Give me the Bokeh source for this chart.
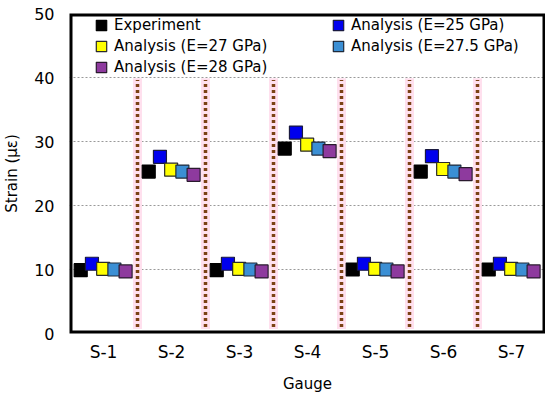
from bokeh.plotting import figure
from bokeh.models import FixedTicker, Legend, LegendItem, ColumnDataSource
from bokeh.embed import file_html
from bokeh.resources import INLINE

gauges = ["S-1", "S-2", "S-3", "S-4", "S-5", "S-6", "S-7"]
experiment = [9.9, 25.3, 9.9, 28.9, 10.0, 25.3, 10.0]
e25 = [10.9, 27.6, 10.9, 31.4, 10.9, 27.7, 10.9]
e27 = [10.1, 25.6, 10.1, 29.5, 10.1, 25.7, 10.1]
e275 = [10.0, 25.3, 10.0, 28.9, 10.0, 25.3, 10.0]
e28 = [9.7, 24.8, 9.7, 28.5, 9.7, 24.9, 9.7]
y_min, y_max = 0, 50
separator_top = 39.6
separator_bottom = 1.0

FONT = "DejaVu Sans"

x_lo, x_hi = 0.5, len(gauges) + 0.5
p = figure(frame_width=476, frame_height=320, x_range=(x_lo, x_hi), y_range=(y_min, y_max),
           output_backend="svg", toolbar_location=None,
           min_border_left=59, min_border_right=0, min_border_top=13, min_border_bottom=0)

# separators between gauges
sep_x = [i + 1.5 for i in range(len(gauges) - 1)]
for sx in sep_x:
    p.line([sx, sx], [separator_bottom - 0.3, separator_top + 0.3], line_color="#ffe0ee", line_width=9, line_alpha=1)
    p.line([sx, sx], [separator_bottom, separator_top], line_color="#7b4214", line_width=3.5, line_dash="3 3")

series = [
    ("Experiment", experiment, "#000000", "#000000", -0.335),
    ("Analysis (E=25 GPa)", e25, "#0000ee", "#1a1a40", -0.17),
    ("Analysis (E=27 GPa)", e27, "#ffff00", "#2a2a2a", -0.005),
    ("Analysis (E=27.5 GPa)", e275, "#3b8fd4", "#1f2a3a", 0.16),
    ("Analysis (E=28 GPa)", e28, "#8e3a9e", "#2a1a2e", 0.325),
]
renderers = {}
xs = list(range(1, len(gauges) + 1))
for name, vals, fill, line, off in series:
    src = ColumnDataSource(dict(x=[x + off for x in xs], y=vals))
    r = p.scatter("x", "y", source=src, marker="square", size=13,
                  fill_color=fill, line_color=line, line_width=1.2)
    renderers[name] = r

# plot frame border
p.quad(left=[x_lo], right=[x_hi], bottom=[y_min], top=[y_max],
       fill_color=None, line_color="#000000", line_width=6)

def make_legend(name, loc):
    lg = Legend(items=[LegendItem(label=name, renderers=[renderers[name]])],
                location=loc, orientation="vertical")
    lg.background_fill_alpha = 0
    lg.border_line_color = None
    lg.padding = 0
    lg.margin = 0
    lg.spacing = 0
    lg.glyph_height = 26
    lg.glyph_width = 26
    lg.label_height = 26
    lg.label_standoff = 0
    lg.label_text_font = FONT
    lg.label_text_font_size = "15px"
    lg.label_text_color = "#000000"
    return lg

legend_layout = [
    ("Experiment", (19, 295)),
    ("Analysis (E=27 GPa)", (19, 274)),
    ("Analysis (E=28 GPa)", (19, 253)),
    ("Analysis (E=25 GPa)", (256, 295)),
    ("Analysis (E=27.5 GPa)", (256, 274)),
]
for name, loc in legend_layout:
    p.add_layout(make_legend(name, loc))

p.xaxis.ticker = FixedTicker(ticks=xs)
p.xaxis.major_label_overrides = {i + 1: g for i, g in enumerate(gauges)}
p.yaxis.ticker = FixedTicker(ticks=[0, 10, 20, 30, 40, 50])
p.xgrid.visible = False
p.ygrid.grid_line_color = "#999999"
p.ygrid.grid_line_dash = "2 2"
p.ygrid.grid_line_width = 1

for ax in (p.xaxis, p.yaxis):
    ax.axis_line_color = None
    ax.major_tick_line_color = None
    ax.minor_tick_line_color = None
    ax.major_label_text_font = FONT
    ax.major_label_text_color = "#000000"
    ax.axis_label_text_font = FONT
    ax.axis_label_text_font_size = "15px"
    ax.axis_label_text_font_style = "normal"
    ax.axis_label_text_color = "#000000"

p.xaxis.major_label_text_font_size = "17px"
p.yaxis.major_label_text_font_size = "16px"
p.xaxis.major_label_standoff = 2
p.yaxis.major_label_standoff = 9
p.xaxis.axis_label = "Gauge"
p.yaxis.axis_label = "Strain (με)"
p.xaxis.axis_label_standoff = 10
p.yaxis.axis_label_standoff = 10

p.outline_line_color = None

open("out.html", "w").write(file_html(p, INLINE))
